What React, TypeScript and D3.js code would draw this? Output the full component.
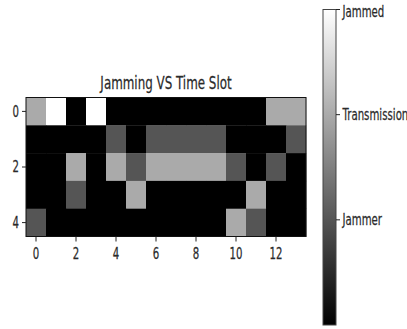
import React from "react";
import * as d3 from "d3";

const timeSlots = d3.range(14);
const channels = d3.range(5);
// 0 = idle, 1 = Jammer, 2 = Transmission, 3 = Jammed
const row0 = [2, 3, 0, 3, 0, 0, 0, 0, 0, 0, 0, 0, 2, 2];
const row1 = [0, 0, 0, 0, 1, 0, 1, 1, 1, 1, 0, 0, 0, 1];
const row2 = [0, 0, 2, 0, 2, 1, 2, 2, 2, 2, 1, 0, 1, 0];
const row3 = [0, 0, 1, 0, 0, 2, 0, 0, 0, 0, 0, 2, 0, 0];
const row4 = [1, 0, 0, 0, 0, 0, 0, 0, 0, 0, 2, 1, 0, 0];
const grid = [row0, row1, row2, row3, row4];
const xTicks = [0, 2, 4, 6, 8, 10, 12];
const yTicks = [0, 2, 4];
const cbTickValues = [1, 2, 3];
const cbTickLabels = ["Jammer", "Transmission", "Jammed"];
const title = "Jamming VS Time Slot";

const SX = 0.68;
const FONT = "DejaVu Sans, sans-serif";

function T({ x, y, size, anchor, children, fill = "#2a2a2a", base = "auto" }: any) {
  return (
    <text
      transform={`translate(${x},${y}) scale(${SX},1)`}
      fontSize={size}
      fontFamily={FONT}
      textAnchor={anchor}
      dominantBaseline={base}
      fill={fill}
      stroke={fill}
      strokeWidth={0.25}
    >
      {children}
    </text>
  );
}

export default function App() {
  const W = 407, H = 329;
  const left = 26, right = 306, top = 97.5, bottom = 236.5;
  const x = d3.scaleLinear().domain([-0.5, 13.5]).range([left, right]);
  const y = d3.scaleLinear().domain([-0.5, 4.5]).range([top, bottom]);
  const color = d3.scaleLinear<string>().domain([0, 3]).range(["#000000", "#ffffff"]);
  const cbX0 = 323, cbX1 = 336, cbTop = 9.5, cbBot = 325;
  const cb = d3.scaleLinear().domain([0, 3]).range([cbBot, cbTop]);
  const cw = x(1) - x(0), ch = y(1) - y(0);

  return (
    <svg width={W} height={H} style={{ position: "absolute", left: 0, top: 0, background: "#fff" }}>
      <defs>
        <linearGradient id="cbg" x1="0" y1="1" x2="0" y2="0">
          <stop offset="0" stopColor={color(0)} />
          <stop offset="1" stopColor={color(3)} />
        </linearGradient>
      </defs>
      <T x={(left + right) / 2} y={89} size={17.5} anchor="middle">{title}</T>
      {grid.map((row, r) =>
        row.map((v, c) => (
          <rect key={`${r}-${c}`} x={x(timeSlots[c]) - cw / 2} y={y(channels[r]) - ch / 2}
            width={cw + 0.3} height={ch + 0.3} fill={color(v)} />
        ))
      )}
      <rect x={left} y={top} width={right - left} height={bottom - top} fill="none" stroke="#111" strokeWidth={1} />
      {xTicks.map((t) => (
        <g key={`x${t}`}>
          <line x1={x(t)} x2={x(t)} y1={bottom} y2={bottom + 5} stroke="#222" />
          <T x={x(t)} y={259} size={15} anchor="middle">{t}</T>
        </g>
      ))}
      {yTicks.map((t) => (
        <g key={`y${t}`}>
          <line x1={left - 4} x2={left} y1={y(t)} y2={y(t)} stroke="#222" />
          <T x={19} y={y(t)} size={15} anchor="end" base="central">{t}</T>
        </g>
      ))}
      <rect x={cbX0} y={cbTop} width={cbX1 - cbX0} height={cbBot - cbTop} fill="url(#cbg)" stroke="#444" strokeWidth={1} />
      {cbTickValues.map((v, i) => (
        <g key={`cb${v}`}>
          <line x1={cbX1} x2={cbX1 + 4} y1={cb(v)} y2={cb(v)} stroke="#222" />
          <T x={342.5} y={cb(v) + (i === 2 ? 2 : 0)} size={15} anchor="start" base="central">{cbTickLabels[i]}</T>
        </g>
      ))}
    </svg>
  );
}
